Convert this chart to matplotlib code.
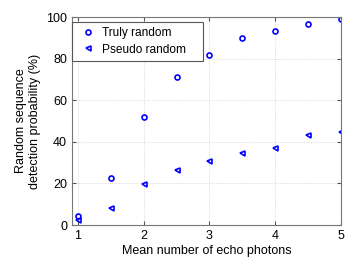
import matplotlib.pyplot as plt

photons = [1, 1.5, 2, 2.5, 3, 3.5, 4, 4.5, 5]
truly_random = [4.3, 22.4, 51.7, 71.3, 81.5, 90.0, 93.4, 96.5, 99.2]
pseudo_random = [2.6, 8.0, 19.8, 26.4, 30.6, 34.6, 37.0, 43.5, 44.9]

plt.rcParams["font.family"] = ["Liberation Sans", "DejaVu Sans"]

fig = plt.figure(figsize=(3.55, 2.62), dpi=100)
ax = fig.add_axes([72 / 355, 1 - 225 / 262, (341 - 72) / 355, (225 - 17) / 262])

ax.plot(photons, truly_random, ls="none", marker="o", ms=3.6, mfc="none",
        mec="#0000ff", mew=1.2, label="Truly random")
ax.plot(photons, pseudo_random, ls="none", marker="<", ms=3.6, mfc="none",
        mec="#0000ff", mew=1.2, label="Pseudo random")

ax.set_xlim(0.91, 5)
ax.set_ylim(0, 100)
ax.set_xticks([1, 2, 3, 4, 5])
ax.set_yticks([0, 20, 40, 60, 80, 100])
ax.tick_params(direction="in", labelsize=9, length=3, top=True, right=True,
               color="#555555")
ax.grid(True, ls=":", color="#cccccc", lw=0.6)
for s in ax.spines.values():
    s.set_color("#777777")
    s.set_linewidth(0.8)

ax.set_xlabel("Mean number of echo photons", fontsize=9, labelpad=2)
ax.set_ylabel("Random sequence\ndetection probability (%)", fontsize=9,
              labelpad=4)

leg = ax.legend(loc="upper left", bbox_to_anchor=(0, 0.976, 0.487, 0),
                mode="expand", fontsize=8.6, fancybox=False, framealpha=1,
                edgecolor="#555555", borderaxespad=0, handlelength=1.8,
                handletextpad=0.3, labelspacing=0.35, borderpad=0.45)
leg.get_frame().set_linewidth(0.8)

fig.savefig("out.png", dpi=100)
